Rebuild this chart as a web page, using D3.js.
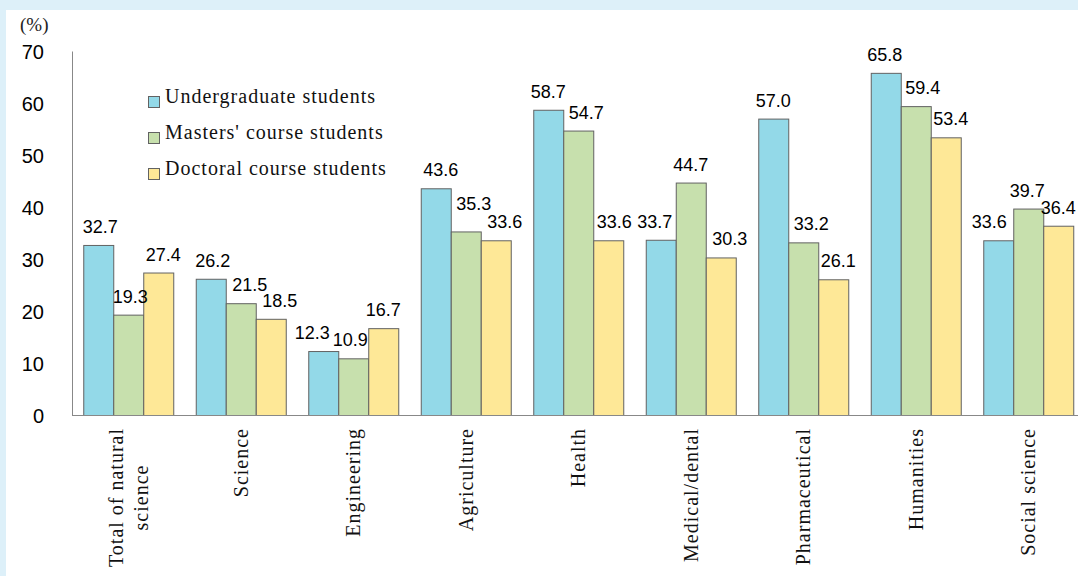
<!DOCTYPE html>
<html>
<head>
<meta charset="utf-8">
<script src="https://cdn.jsdelivr.net/npm/d3@7"></script>
<style>
  html, body { margin: 0; padding: 0; background: #ddf0f9; }
  svg { display: block; }
</style>
</head>
<body>
<svg id="chart" width="1078" height="576"></svg>
<script>
// Share of students by field of study (%)
const categories = [
  "Total of natural\nscience", "Science", "Engineering", "Agriculture", "Health",
  "Medical/dental", "Pharmaceutical", "Humanities", "Social science"
];
const seriesNames = ["Undergraduate students", "Masters' course students", "Doctoral course students"];
const undergraduate = [32.7, 26.2, 12.3, 43.6, 58.7, 33.7, 57.0, 65.8, 33.6];
const masters       = [19.3, 21.5, 10.9, 35.3, 54.7, 44.7, 33.2, 59.4, 39.7];
const doctoral      = [27.4, 18.5, 16.7, 33.6, 33.6, 30.3, 26.1, 53.4, 36.4];
const yTicks = [0, 10, 20, 30, 40, 50, 60, 70];

const seriesValues = [undergraduate, masters, doctoral];
const colors = ["#93d9e8", "#c7e0ad", "#fee897"];

// horizontal nudges so neighbouring value labels do not collide
const labelDx = [
  [2, 2, -11, 5, 0, -6, 0, -1, -9],
  [2, 9, -3, 8, 8, 0, 8, 7, -1],
  [5, 9, 0, 9, 6, 9, 5, 5, 0]
];
const labelDy = [
  [0, 0, 0, 0, 0, 0, 0, 0, 0],
  [0, 0, 0, -9, 0, 0, 0, 0, 0],
  [0, 0, 0, 0, 0, 0, 0, 0, 0]
];

const svg = d3.select("#chart");
const W = 1078, H = 576;

// white panel
svg.append("rect").attr("x", 6).attr("y", 10).attr("width", W - 6).attr("height", H - 10)
  .attr("fill", "#ffffff");

const x0 = d3.scaleBand().domain(d3.range(categories.length))
  .range([72, 1084.5]).paddingInner(0.2).paddingOuter(0.1);
const x1 = d3.scaleBand().domain(d3.range(seriesValues.length))
  .range([0, x0.bandwidth()]);
const y = d3.scaleLinear().domain([0, 70]).range([415, 51]);

// y axis
const yAxis = svg.append("g").attr("transform", "translate(72,0)")
  .call(d3.axisLeft(y).tickValues(yTicks).tickSize(0).tickPadding(28).tickFormat(d3.format("d")));
yAxis.select(".domain").attr("stroke", "#888888").attr("stroke-width", 1);
yAxis.selectAll("text").attr("font-family", "'Liberation Sans', Arial, sans-serif")
  .attr("font-size", 20).attr("fill", "#000").attr("dy", "0.35em");

svg.append("text").attr("x", 20).attr("y", 31)
  .attr("font-family", "'Liberation Serif', serif").attr("font-size", 19)
  .attr("fill", "#222").text("(%)");

// bars
const groups = svg.append("g").selectAll("g")
  .data(categories.map((c, i) => i))
  .join("g")
  .attr("transform", i => `translate(${x0(i)},0)`);

groups.selectAll("rect")
  .data(i => seriesValues.map((vals, s) => ({ s, i, v: vals[i] })))
  .join("rect")
  .attr("x", d => x1(d.s) + 0.5)
  .attr("y", d => y(d.v) + 0.5)
  .attr("width", x1.bandwidth())
  .attr("height", d => y(0) - y(d.v))
  .attr("fill", d => colors[d.s])
  .attr("stroke", "#626262")
  .attr("stroke-width", 1);

// value labels
const fmt = d3.format(".1f");
groups.selectAll("text.val")
  .data(i => seriesValues.map((vals, s) => ({ s, i, v: vals[i] })))
  .join("text")
  .attr("class", "val")
  .attr("x", d => x1(d.s) + x1.bandwidth() / 2 + labelDx[d.s][d.i])
  .attr("y", d => y(d.v) - 12 + labelDy[d.s][d.i])
  .attr("text-anchor", "middle")
  .attr("font-family", "'Liberation Sans', Arial, sans-serif")
  .attr("font-size", 18)
  .attr("fill", "#000")
  .text(d => fmt(d.v));

// x axis baseline
const xAxis = svg.append("g").attr("transform", "translate(0,415.5)")
  .call(d3.axisBottom(x0).tickSize(0).tickFormat(""));
xAxis.select(".domain").attr("stroke", "#888888").attr("stroke-width", 1)
  .attr("d", `M72,0H${W}`);

// rotated category labels
const catG = svg.append("g");
categories.forEach((c, i) => {
  const lines = c.split("\n");
  const cx = x0(i) + x0.bandwidth() / 2;
  const g = catG.append("g");
  const texts = lines.map((line, k) => g.append("text")
    .attr("font-family", "'Liberation Serif', 'Times New Roman', serif")
    .attr("font-size", 20)
    .attr("letter-spacing", 1)
    .attr("fill", "#111")
    .text(line));
  const widths = texts.map(t => t.node().getComputedTextLength());
  const maxW = d3.max(widths);
  const top = 428;
  texts.forEach((t, k) => {
    const lx = cx + (k - (lines.length - 1) / 2) * 25;
    const ly = top + maxW / 2;
    t.attr("text-anchor", "middle")
      .attr("dy", "0.35em")
      .attr("transform", `translate(${lx},${ly}) rotate(-90)`);
  });
});

// legend
const legend = svg.append("g");
seriesNames.forEach((name, s) => {
  const base = 102 + s * 36;
  legend.append("rect").attr("x", 148.5).attr("y", base - 5.5)
    .attr("width", 11).attr("height", 11)
    .attr("fill", colors[s]).attr("stroke", "#626262").attr("stroke-width", 1);
  legend.append("text").attr("x", 165).attr("y", base + 1)
    .attr("font-family", "'Liberation Serif', 'Times New Roman', serif")
    .attr("font-size", 20).attr("letter-spacing", 1).attr("fill", "#111")
    .text(name);
});
</script>
</body>
</html>
